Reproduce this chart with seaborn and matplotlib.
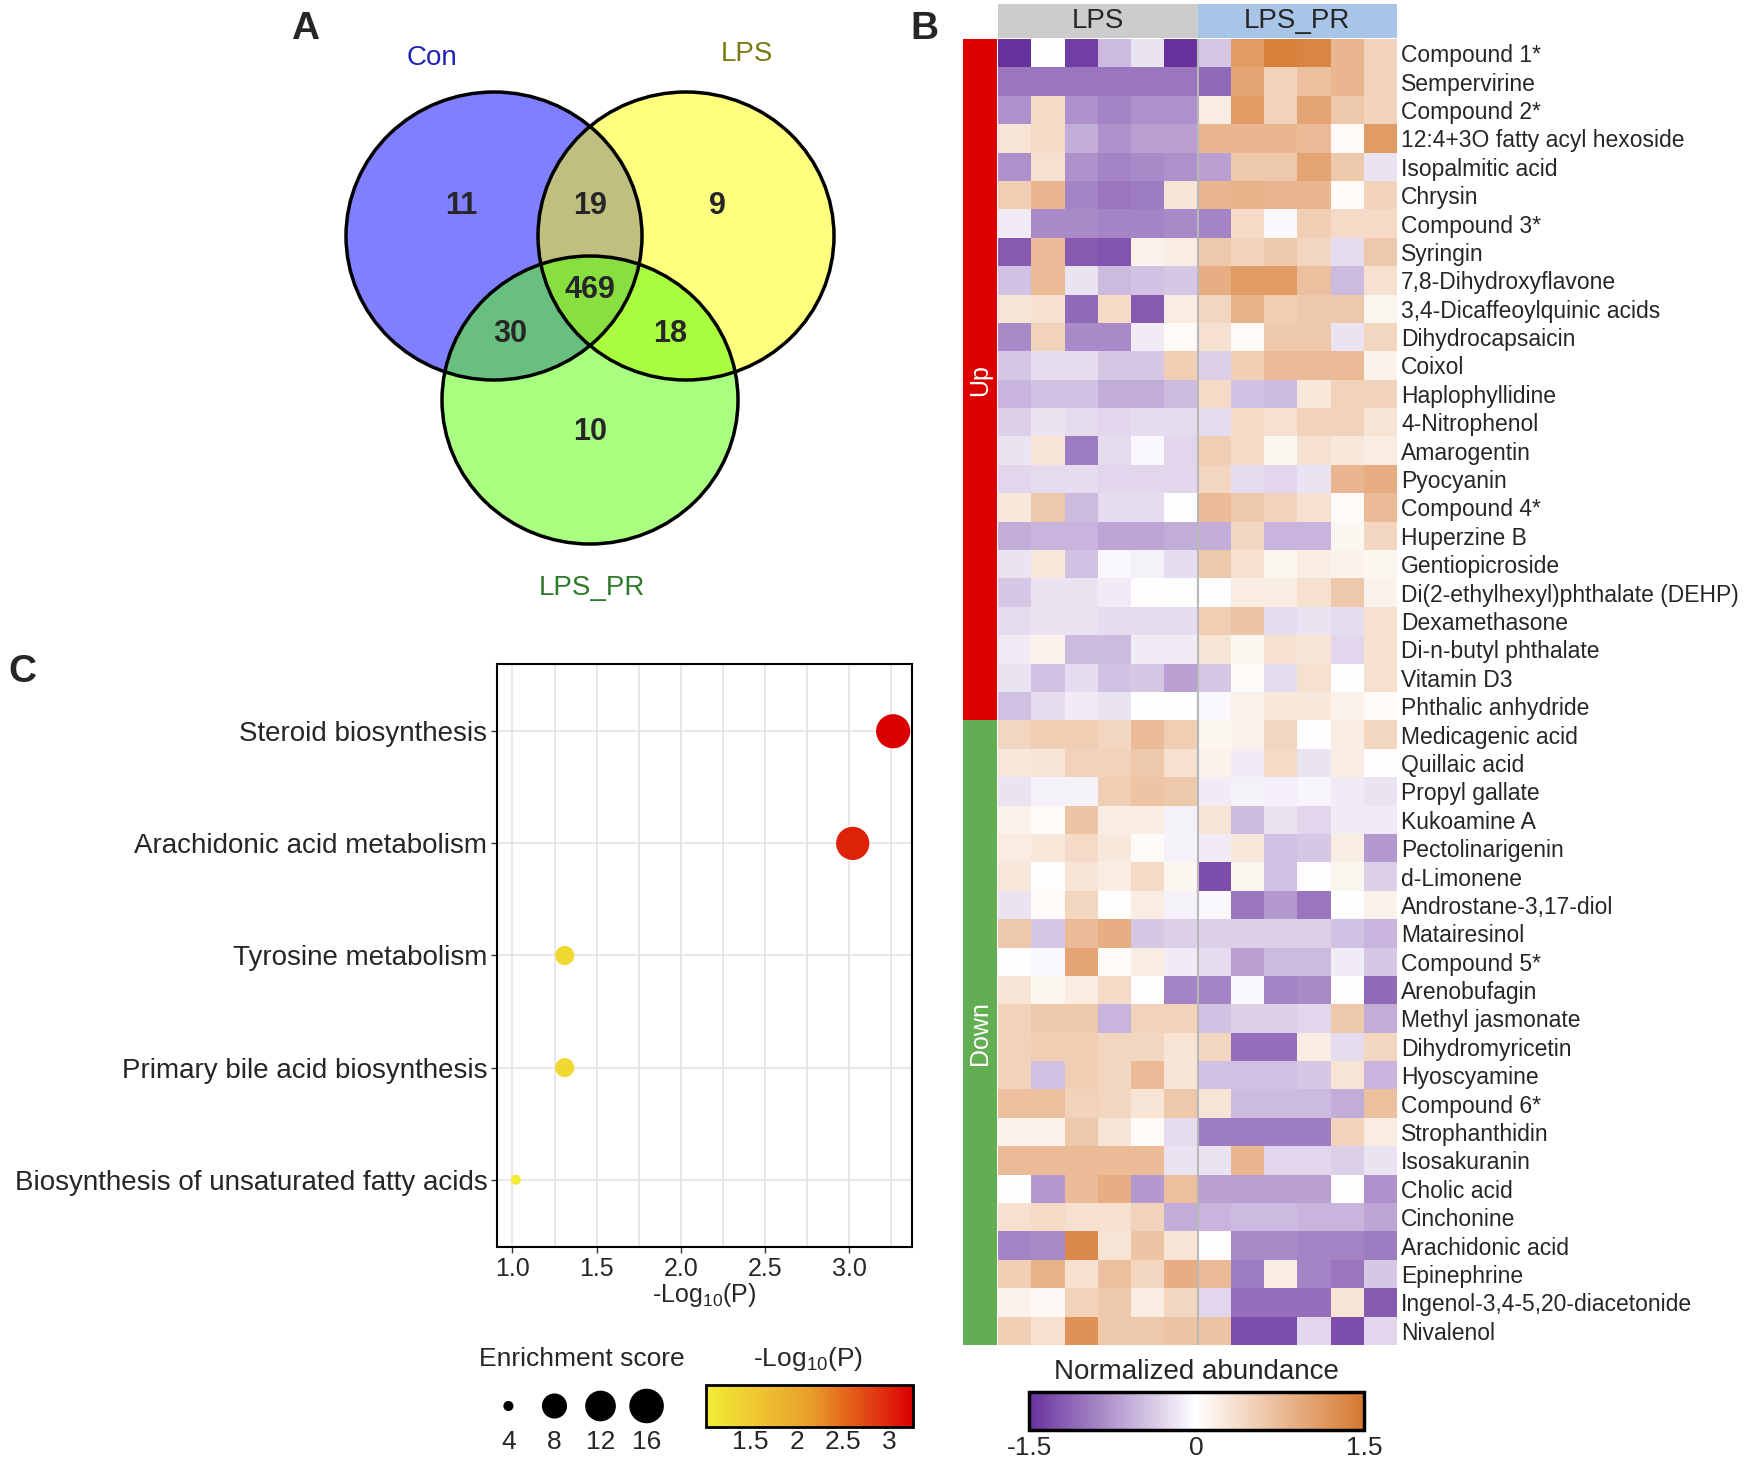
import matplotlib
matplotlib.use("Agg")
import matplotlib.pyplot as plt
import numpy as np
import pandas as pd
import seaborn as sns
from matplotlib.cm import ScalarMappable
from matplotlib.colors import LinearSegmentedColormap, ListedColormap, Normalize, PowerNorm
from matplotlib.patches import Ellipse


# Dane - panel A (Venn)
venn_names = ["Con", "LPS", "LPS_PR"]
# kolejnosc: tylko Con, Con&LPS, tylko LPS, wszystkie, Con&LPS_PR, LPS&LPS_PR, tylko LPS_PR
venn_counts = [11, 19, 9, 469, 30, 18, 10]

# Dane - panel B (heatmapa)
groups = ["LPS", "LPS_PR"]
compounds_up = [
    "Compound 1*", "Sempervirine", "Compound 2*", "12:4+3O fatty acyl hexoside",
    "Isopalmitic acid", "Chrysin", "Compound 3*", "Syringin", "7,8-Dihydroxyflavone",
    "3,4-Dicaffeoylquinic acids", "Dihydrocapsaicin", "Coixol", "Haplophyllidine",
    "4-Nitrophenol", "Amarogentin", "Pyocyanin", "Compound 4*", "Huperzine B",
    "Gentiopicroside", "Di(2-ethylhexyl)phthalate (DEHP)", "Dexamethasone",
    "Di-n-butyl phthalate", "Vitamin D3", "Phthalic anhydride",
]
compounds_down = [
    "Medicagenic acid", "Quillaic acid", "Propyl gallate", "Kukoamine A",
    "Pectolinarigenin", "d-Limonene", "Androstane-3,17-diol", "Matairesinol",
    "Compound 5*", "Arenobufagin", "Methyl jasmonate", "Dihydromyricetin",
    "Hyoscyamine", "Compound 6*", "Strophanthidin", "Isosakuranin", "Cholic acid",
    "Cinchonine", "Arachidonic acid", "Epinephrine", "Ingenol-3,4-5,20-diacetonide",
    "Nivalenol",
]
lps_values = [
    [-1.5, 0.0, -1.4, -0.5, -0.2, -1.5],
    [-1.0, -1.0, -1.0, -1.0, -1.0, -1.0],
    [-0.8, 0.4, -0.8, -0.9, -0.8, -0.8],
    [0.3, 0.4, -0.6, -0.8, -0.7, -0.7],
    [-0.8, 0.35, -0.8, -0.9, -0.85, -0.8],
    [0.55, 0.8, -0.9, -1.0, -0.95, 0.3],
    [-0.15, -0.85, -0.85, -0.9, -0.9, -0.85],
    [-1.2, 0.75, -1.2, -1.25, 0.15, 0.2],
    [-0.45, 0.75, -0.2, -0.5, -0.45, -0.4],
    [0.3, 0.35, -1.1, 0.4, -1.2, 0.2],
    [-0.85, 0.5, -0.85, -0.85, -0.15, 0.05],
    [-0.4, -0.25, -0.25, -0.4, -0.4, 0.55],
    [-0.55, -0.45, -0.45, -0.6, -0.6, -0.5],
    [-0.35, -0.2, -0.25, -0.3, -0.25, -0.25],
    [-0.2, 0.3, -0.95, -0.25, -0.05, -0.3],
    [-0.3, -0.25, -0.25, -0.3, -0.3, -0.3],
    [0.25, 0.6, -0.5, -0.25, -0.25, -0.02],
    [-0.6, -0.55, -0.55, -0.65, -0.65, -0.6],
    [-0.2, 0.25, -0.45, -0.05, -0.1, -0.25],
    [-0.4, -0.2, -0.2, -0.15, 0.02, -0.02],
    [-0.25, -0.2, -0.2, -0.25, -0.25, -0.25],
    [-0.15, 0.15, -0.5, -0.5, -0.15, -0.15],
    [-0.2, -0.45, -0.25, -0.45, -0.4, -0.7],
    [-0.45, -0.25, -0.15, -0.2, 0.0, 0.0],
    [0.45, 0.55, 0.55, 0.45, 0.75, 0.55],
    [0.25, 0.3, 0.5, 0.5, 0.6, 0.35],
    [-0.2, -0.1, -0.1, 0.55, 0.65, 0.6],
    [0.15, 0.05, 0.65, 0.2, 0.2, -0.1],
    [0.2, 0.25, 0.4, 0.25, 0.05, -0.1],
    [0.25, -0.02, 0.3, 0.2, 0.4, 0.1],
    [-0.2, 0.05, 0.45, -0.02, 0.2, -0.1],
    [0.6, -0.4, 0.75, 0.9, -0.4, -0.35],
    [0.0, -0.05, 1.0, 0.05, 0.2, -0.15],
    [0.3, 0.1, 0.2, 0.4, 0.02, -0.9],
    [0.5, 0.6, 0.6, -0.55, 0.5, 0.5],
    [0.5, 0.55, 0.55, 0.45, 0.45, 0.3],
    [0.5, -0.45, 0.55, 0.45, 0.75, 0.3],
    [0.7, 0.7, 0.5, 0.45, 0.3, 0.6],
    [0.15, 0.15, 0.6, 0.3, 0.05, -0.25],
    [0.75, 0.75, 0.75, 0.75, 0.75, -0.2],
    [0.0, -0.75, 0.75, 0.9, -0.75, 0.7],
    [0.35, 0.4, 0.35, 0.35, 0.5, -0.6],
    [-0.9, -0.85, 1.3, 0.3, 0.65, 0.3],
    [0.55, 0.85, 0.35, 0.7, 0.45, 0.9],
    [0.15, 0.08, 0.5, 0.6, 0.2, 0.45],
    [0.55, 0.35, 1.2, 0.6, 0.6, 0.65],
]
lps_pr_values = [
    [-0.4, 1.1, 1.4, 1.35, 0.8, 0.5],
    [-1.1, 1.0, 0.5, 0.7, 0.8, 0.5],
    [0.2, 1.1, 0.5, 1.0, 0.6, 0.5],
    [0.8, 0.8, 0.8, 0.75, 0.05, 1.1],
    [-0.7, 0.6, 0.6, 1.0, 0.6, -0.2],
    [0.8, 0.85, 0.8, 0.8, 0.05, 0.5],
    [-0.9, 0.4, -0.05, 0.55, 0.4, 0.4],
    [0.6, 0.5, 0.6, 0.45, -0.25, 0.6],
    [0.9, 1.1, 1.1, 0.7, -0.5, 0.35],
    [0.45, 0.85, 0.55, 0.6, 0.6, 0.1],
    [0.35, 0.05, 0.6, 0.6, -0.2, 0.45],
    [-0.35, 0.55, 0.75, 0.75, 0.75, 0.15],
    [0.4, -0.45, -0.5, 0.25, 0.5, 0.5],
    [-0.25, 0.4, 0.35, 0.5, 0.5, 0.3],
    [0.55, 0.4, 0.1, 0.35, 0.25, 0.2],
    [0.45, -0.25, -0.3, -0.2, 0.8, 0.9],
    [0.75, 0.6, 0.5, 0.35, 0.05, 0.75],
    [-0.6, 0.45, -0.55, -0.55, 0.1, 0.45],
    [0.6, 0.35, 0.1, 0.2, 0.15, 0.1],
    [0.0, 0.2, 0.2, 0.35, 0.6, 0.15],
    [0.55, 0.65, -0.25, -0.2, -0.25, 0.35],
    [0.3, 0.1, 0.35, 0.3, -0.3, 0.35],
    [-0.4, 0.05, -0.25, 0.35, 0.0, 0.35],
    [-0.05, 0.15, 0.25, 0.25, 0.15, 0.05],
    [0.1, 0.15, 0.45, 0.02, 0.2, 0.45],
    [0.15, -0.15, 0.4, -0.2, 0.2, 0.02],
    [-0.15, -0.1, -0.12, -0.08, -0.15, -0.2],
    [0.3, -0.5, -0.2, -0.3, -0.15, -0.15],
    [-0.15, 0.25, -0.45, -0.4, 0.2, -0.75],
    [-1.3, 0.1, -0.45, 0.02, 0.1, -0.35],
    [-0.05, -1.0, -0.75, -1.0, 0.0, 0.15],
    [-0.35, -0.35, -0.35, -0.35, -0.45, -0.55],
    [-0.25, -0.7, -0.5, -0.5, -0.15, -0.4],
    [-0.9, -0.05, -0.9, -0.85, 0.0, -1.1],
    [-0.45, -0.35, -0.35, -0.3, 0.6, -0.6],
    [0.45, -1.05, -1.05, 0.2, -0.25, 0.45],
    [-0.45, -0.45, -0.45, -0.4, 0.3, -0.55],
    [0.3, -0.5, -0.5, -0.5, -0.6, 0.7],
    [-0.95, -0.95, -0.95, -0.95, 0.5, 0.2],
    [-0.2, 0.8, -0.3, -0.3, -0.35, -0.2],
    [-0.7, -0.7, -0.7, -0.7, 0.02, -0.8],
    [-0.55, -0.5, -0.5, -0.55, -0.55, -0.65],
    [0.02, -0.85, -0.85, -0.9, -0.9, -0.95],
    [0.75, -0.95, 0.2, -0.9, -1.0, -0.4],
    [-0.3, -1.05, -1.05, -1.05, 0.3, -1.2],
    [0.65, -1.3, -1.3, -0.3, -1.3, -0.3],
]
abundance_ticks = [-1.5, 0, 1.5]

# Dane - panel C (wzbogacenie szlakow)
pathways = [
    "Steroid biosynthesis", "Arachidonic acid metabolism", "Tyrosine metabolism",
    "Primary bile acid biosynthesis", "Biosynthesis of unsaturated fatty acids",
]
log_p = [3.26, 3.02, 1.31, 1.31, 1.02]
enrichment = [15.5, 14.5, 5.5, 5.5, 4.0]
size_breaks = [4, 8, 12, 16]
log_p_ticks = [1.5, 2, 2.5, 3]


# Ustawienia wykresu
W, H = 1745, 1466
sns.set_theme(style="white")
plt.rcParams["font.family"] = ["Liberation Sans", "DejaVu Sans"]
plt.rcParams["mathtext.default"] = "regular"

fig = plt.figure(figsize=(W / 100, H / 100), dpi=100)


def px_box(x0, y0, x1, y1):
    return fig.add_axes([x0 / W, 1 - y1 / H, (x1 - x0) / W, (y1 - y0) / H])


# Warstwa w pikselach na diagram Venna i litery paneli
ax_bg = px_box(0, 0, W, H)
ax_bg.set_xlim(0, W)
ax_bg.set_ylim(H, 0)
ax_bg.axis("off")

# Panel A
venn_centers = [(494, 236), (686, 236), (590, 400)]
venn_fill = ["#0000ff", "#ffff00", "#55ff00"]
for (cx, cy), col in zip(venn_centers, venn_fill):
    ax_bg.add_patch(Ellipse((cx, cy), 296, 288, facecolor=col, alpha=0.5, edgecolor="none"))
for cx, cy in venn_centers:
    ax_bg.add_patch(Ellipse((cx, cy), 296, 288, facecolor="none", edgecolor="black", lw=2.5))

count_positions = [(461, 206), (590, 206), (717, 206), (590, 290), (510, 334), (670, 334), (590, 432)]
for (x, y), n in zip(count_positions, venn_counts):
    ax_bg.text(x, y, str(n), ha="center", va="center", fontsize=22, fontweight="bold")

name_positions = [(432, 58), (747, 54), (592, 588)]
name_colors = ["#2424b4", "#7a7a10", "#2f7a2a"]
for (x, y), name, col in zip(name_positions, venn_names, name_colors):
    ax_bg.text(x, y, name, ha="center", va="center", fontsize=20, color=col)

for letter, (x, y) in zip("ABC", [(305, 29), (924, 29), (22, 672)]):
    ax_bg.text(x, y, letter, ha="center", va="center", fontsize=28, fontweight="bold")


# Panel B - heatmapa
compounds = compounds_up + compounds_down
columns = [f"{g}_{i + 1}" for g in groups for i in range(6)]
abundance = pd.DataFrame(np.hstack([lps_values, lps_pr_values]), index=compounds, columns=columns)

abundance_cmap = LinearSegmentedColormap.from_list("abund", ["#68329e", "#ffffff", "#d6782f"])

ax_hm = px_box(998, 39, 1397, 1345)
cax_hm = px_box(1029, 1392, 1364, 1430)
sns.heatmap(
    abundance,
    cmap=abundance_cmap,
    vmin=-1.5,
    vmax=1.5,
    ax=ax_hm,
    cbar_ax=cax_hm,
    cbar_kws={"orientation": "horizontal", "ticks": abundance_ticks},
    xticklabels=False,
    yticklabels=compounds,
)
ax_hm.yaxis.tick_right()
ax_hm.tick_params(axis="y", length=0, pad=3, labelsize=16.5, rotation=0)
for label in ax_hm.get_yticklabels():
    label.set_ha("left")
ax_hm.set_ylabel("")
ax_hm.axvline(6, color="#b8b8b8", lw=1.5)

cbar = ax_hm.collections[0].colorbar
cbar.outline.set_linewidth(2.5)
cbar.outline.set_edgecolor("black")
cax_hm.tick_params(length=0, labelsize=19, pad=4)
cax_hm.set_xticklabels(["-1.5", "0", "1.5"])
fig.text(1196 / W, 1 - 1372 / H, "Normalized abundance", ha="center", va="center", fontsize=20)

# Naglowek grup
header = pd.DataFrame([[groups.index(c.rsplit("_", 1)[0]) for c in columns]])
ax_head = px_box(998, 4, 1397, 38)
sns.heatmap(header, cmap=ListedColormap(["#cccccc", "#a8c5e8"]), vmin=0, vmax=1,
            cbar=False, ax=ax_head, xticklabels=False, yticklabels=False)
for i, g in enumerate(groups):
    ax_head.text(3 + 6 * i, 0.5, g, ha="center", va="center", fontsize=20)

# Pasek Up / Down
direction = pd.DataFrame([0] * len(compounds_up) + [1] * len(compounds_down))
ax_side = px_box(963, 39, 997, 1345)
sns.heatmap(direction, cmap=ListedColormap(["#dc0000", "#63ad52"]), vmin=0, vmax=1,
            cbar=False, ax=ax_side, xticklabels=False, yticklabels=False)
ax_side.text(0.5, len(compounds_up) / 2, "Up", rotation=90, ha="center", va="center",
             color="white", fontsize=18)
ax_side.text(0.5, len(compounds_up) + len(compounds_down) / 2, "Down", rotation=90,
             ha="center", va="center", color="white", fontsize=18)


# Panel C - wykres babelkowy
pathway_df = pd.DataFrame({"pathway": pathways, "log_p": log_p, "enrichment": enrichment})
p_cmap = LinearSegmentedColormap.from_list("logp", ["#f3ec35", "#ea9f2c", "#da0000"])
p_norm = Normalize(min(log_p), max(log_p))
size_norm = PowerNorm(0.6, vmin=3.8, vmax=16)
size_range = (0, 620)

ax_c = px_box(497, 664, 912, 1247)
sns.scatterplot(
    data=pathway_df,
    x="log_p",
    y="pathway",
    hue="log_p",
    palette=p_cmap,
    hue_norm=p_norm,
    size="enrichment",
    sizes=size_range,
    size_norm=size_norm,
    linewidth=0,
    legend=False,
    ax=ax_c,
    zorder=3,
)
span = max(log_p) - min(log_p)
ax_c.set_xlim(min(log_p) - 0.05 * span, max(log_p) + 0.05 * span)
ax_c.set_ylim(len(pathways) - 0.4, -0.6)
ax_c.set_xticks([1.0, 1.5, 2.0, 2.5, 3.0])
ax_c.set_xticks([1.25, 1.75, 2.25, 2.75, 3.25], minor=True)
ax_c.set_xticklabels(["1.0", "1.5", "2.0", "2.5", "3.0"])
ax_c.grid(True, which="both", color="#e6e6e6", lw=1.3)
ax_c.set_axisbelow(True)
ax_c.tick_params(axis="both", which="major", length=4, width=1, color="#333333",
                 labelsize=20, pad=3, bottom=True, left=True)
ax_c.tick_params(axis="x", labelsize=18)
ax_c.tick_params(which="minor", length=0)
for s in ax_c.spines.values():
    s.set_color("black")
    s.set_linewidth(1.5)
ax_c.set_ylabel("")
ax_c.set_xlabel("-Log$_{10}$(P)", fontsize=18, labelpad=0)

# Legenda rozmiaru
fig.text(582 / W, 1 - 1359 / H, "Enrichment score", ha="center", va="center", fontsize=19)
ax_sl = px_box(490, 1385, 665, 1427)
sns.scatterplot(x=range(len(size_breaks)), y=[0] * len(size_breaks), size=size_breaks,
                sizes=size_range, size_norm=size_norm, color="black", linewidth=0,
                legend=False, ax=ax_sl)
ax_sl.set_xlim(-0.4, len(size_breaks) - 0.6)
ax_sl.set_ylim(-1, 1)
ax_sl.set_xticks(range(len(size_breaks)))
ax_sl.set_xticklabels([str(v) for v in size_breaks])
ax_sl.set_yticks([])
ax_sl.tick_params(length=0, labelsize=19, pad=2)
for s in ax_sl.spines.values():
    s.set_visible(False)

# Legenda koloru
fig.text(808 / W, 1 - 1359 / H, "-Log$_{10}$(P)", ha="center", va="center", fontsize=19)
cax_c = px_box(706, 1385, 913, 1427)
cb_c = fig.colorbar(ScalarMappable(norm=p_norm, cmap=p_cmap), cax=cax_c,
                    orientation="horizontal", ticks=log_p_ticks)
cb_c.outline.set_linewidth(2)
cb_c.outline.set_edgecolor("black")
cax_c.set_xticklabels(["1.5", "2", "2.5", "3"])
cax_c.tick_params(axis="x", direction="in", color="white", length=7, width=1.5,
                  top=True, bottom=True, labelsize=19, pad=2)

fig.savefig("out.png", dpi=100)
